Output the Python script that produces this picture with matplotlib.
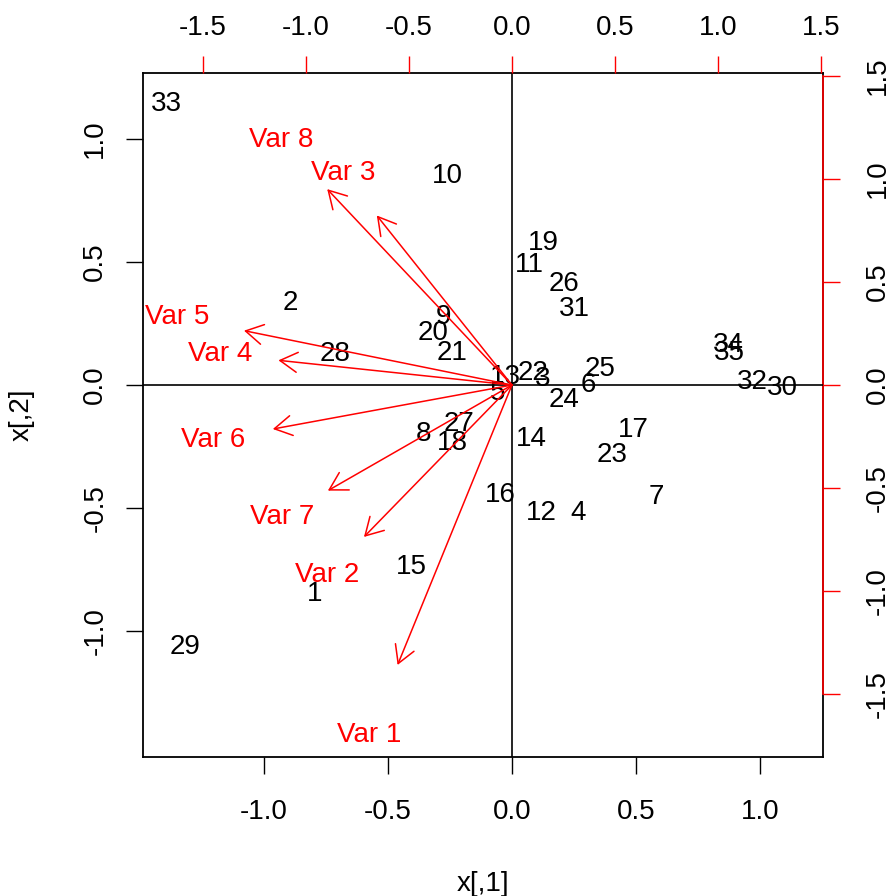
import matplotlib
matplotlib.use("Agg")
import matplotlib.pyplot as plt

plt.rcParams["font.family"] = ["Liberation Sans", "DejaVu Sans"]

# ── Dados: scores (eixo primário) ─────────────────────────────────────
obs_labels = [str(i) for i in range(1, 36)]
score_x = [-0.794, -0.895, 0.125, 0.266, -0.060, 0.306, 0.581, -0.355, -0.278, -0.262,
           0.069, 0.117, -0.028, 0.077, -0.407, -0.048, 0.488, -0.242, 0.125, -0.319,
           -0.242, 0.085, 0.403, 0.210, 0.355, 0.210, -0.214, -0.714, -1.319, 1.089,
           0.250, 0.968, -1.395, 0.871, 0.875]
score_y = [-0.850, 0.333, 0.024, -0.520, -0.033, 0.000, -0.455, -0.199, 0.276, 0.850,
           0.488, -0.520, 0.033, -0.220, -0.740, -0.447, -0.183, -0.236, 0.577, 0.211,
           0.130, 0.049, -0.285, -0.061, 0.065, 0.411, -0.159, 0.126, -1.065, -0.012,
           0.309, 0.012, 1.142, 0.163, 0.130]

# ── Dados: loadings (eixo secundário) ─────────────────────────────────
var_labels = ["Var 1", "Var 2", "Var 3", "Var 4", "Var 5", "Var 6", "Var 7", "Var 8"]
load_x = [-0.694, -0.898, -0.820, -1.417, -1.626, -1.451, -1.117, -1.121]
load_y = [-1.699, -0.922, 1.029, 0.150, 0.330, -0.267, -0.641, 1.189]

xticks_1 = [-1.0, -0.5, 0.0, 0.5, 1.0]
yticks_1 = [-1.0, -0.5, 0.0, 0.5, 1.0]
ticks_2 = [-1.5, -1.0, -0.5, 0.0, 0.5, 1.0, 1.5]

FS = 20
RECT = [143 / 890, 139 / 896, 680 / 890, 684 / 896]

fig = plt.figure(figsize=(8.9, 8.96), dpi=100)
fig.patch.set_facecolor("white")

# eixo primário (scores)
ax = fig.add_axes(RECT)
ax.set_xlim(-1.488, 1.254)
ax.set_ylim(-1.512, 1.268)
for s in ax.spines.values():
    s.set_color("black")
    s.set_linewidth(1.3)
    s.set_zorder(5)
ax.set_xticks(xticks_1)
ax.set_yticks(yticks_1)
ax.set_xticklabels([f"{t:.1f}" for t in xticks_1])
ax.set_yticklabels([f"{t:.1f}" for t in yticks_1], rotation=90, va="center")
ax.tick_params(axis="both", direction="out", length=12, width=1, labelsize=FS)
ax.tick_params(axis="x", pad=18)
ax.tick_params(axis="y", pad=13)
ax.set_xlabel("x[,1]", fontsize=FS, labelpad=33)
ax.set_ylabel("x[,2]", fontsize=FS, labelpad=34)

for lab, x, y in zip(obs_labels, score_x, score_y):
    ax.text(x, y, lab, ha="center", va="center", fontsize=FS, color="black", zorder=3)

# eixo secundário (loadings)
ax2 = fig.add_axes(RECT, frameon=False)
ax2.set_xlim(-1.791, 1.510)
ax2.set_ylim(-1.806, 1.515)
ax2.xaxis.tick_top()
ax2.yaxis.tick_right()
ax2.set_xticks(ticks_2)
ax2.set_yticks(ticks_2)
ax2.set_xticklabels([f"{t:.1f}" for t in ticks_2])
ax2.set_yticklabels([f"{t:.1f}" for t in ticks_2], rotation=90, va="center")
ax2.tick_params(axis="both", direction="out", length=12, width=1,
                color="red", labelcolor="black", labelsize=FS)
ax2.tick_params(axis="x", pad=11)
ax2.tick_params(axis="y", pad=18)
ax2.plot([1.510, 1.510], [-1.5, 1.5], color="red", lw=1.2, clip_on=False, zorder=1)

ax2.axhline(0, color="black", lw=1.2, zorder=1)
ax2.axvline(0, color="black", lw=1.2, zorder=1)

for lab, x, y in zip(var_labels, load_x, load_y):
    ax2.annotate("", xy=(0.8 * x, 0.8 * y), xytext=(0, 0),
                 arrowprops=dict(arrowstyle="->,head_length=1.25,head_width=0.72",
                                 color="red", lw=1.1, mutation_scale=10,
                                 shrinkA=0, shrinkB=0), zorder=2)
    ax2.text(x, y, lab, ha="center", va="center", fontsize=FS, color="red", zorder=3)

plt.savefig("out.png", dpi=100, facecolor="white")
